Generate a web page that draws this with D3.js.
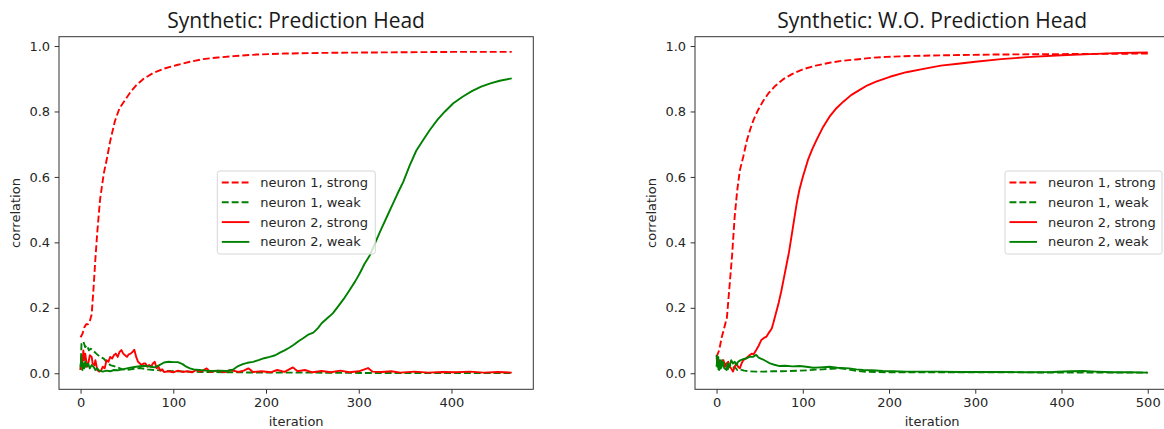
<!DOCTYPE html>
<html>
<head>
<meta charset="utf-8">
<script src="https://cdn.jsdelivr.net/npm/d3@7"></script>
<style>
    body { margin: 0; background: #fff; }
    .tick text { font-family: "DejaVu Sans", sans-serif; font-size: 13px; fill: #262626; }
    .axis-label { font-family: "DejaVu Sans", sans-serif; font-size: 13px; fill: #262626; }
    .title { font-family: "Open Sans", sans-serif; font-size: 21px; fill: #1a1a1a; }
    .legend text { font-family: "DejaVu Sans", sans-serif; font-size: 13px; fill: #262626; }
</style>
</head>
<body>
<div id="chart"></div>
<script>

// legend labels (same for both panels)
let seriesNames = ["neuron 1, strong", "neuron 1, weak", "neuron 2, strong", "neuron 2, weak"];
let yTicks = [0.0, 0.2, 0.4, 0.6, 0.8, 1.0];
let xTicksLeft = [0, 100, 200, 300, 400];
let xTicksRight = [0, 100, 200, 300, 400, 500];

// ---- left panel: with prediction head, [iteration, correlation]
let headN1Strong = [[0,0.11],[2,0.12],[4,0.14],[6,0.15],[8,0.15],[10,0.16],[12,0.18],[14,0.26],[16,0.35],[18,0.43],[21,0.53],[25,0.61],[28,0.65],[32,0.71],[37,0.77],[42,0.81],[48,0.835],[54,0.86],[60,0.88],[68,0.9],[78,0.917],[90,0.931],[104,0.942],[118,0.952],[132,0.96],[148,0.965],[165,0.969],[190,0.974],[220,0.977],[260,0.979],[300,0.98],[350,0.981],[400,0.982],[465,0.982]];

let headN1Weak = [[0,0.01],[1,0.09],[3,0.097],[5,0.08],[7,0.085],[9,0.07],[11,0.075],[14,0.068],[17,0.06],[21,0.05],[25,0.045],[28,0.035],[32,0.025],[36,0.022],[40,0.018],[45,0.012],[50,0.01],[56,0.013],[64,0.016],[72,0.012],[80,0.01],[90,0.008],[100,0.006],[115,0.005],[130,0.004],[160,0.003],[200,0.002],[250,0.002],[300,0.001],[350,0.001],[400,0.001],[465,0.001]];

let headN2Strong = [[0,0.01],[1,0.05],[2,0.03],[3,0.07],[4,0.04],[5,0.06],[7,0.02],[8,0.025],[10,0.055],[12,0.05],[13,0.03],[15,0.025],[16,0.04],[18,0.01],[20,0.005],[22,0.008],[24,0.02],[26,0.015],[28,0.04],[30,0.035],[32,0.05],[34,0.045],[36,0.055],[38,0.06],[40,0.05],[42,0.065],[44,0.071],[46,0.06],[48,0.055],[50,0.05],[52,0.058],[54,0.06],[56,0.065],[58,0.072],[60,0.05],[62,0.035],[64,0.03],[66,0.025],[68,0.03],[70,0.03],[72,0.02],[74,0.025],[76,0.02],[78,0.03],[80,0.035],[82,0.015],[84,0.02],[86,0.008],[88,0.012],[90,0.004],[95,0.006],[100,0.003],[105,0.008],[110,0.004],[115,0.006],[120,0.003],[125,0.01],[130,0.005],[136,0.015],[140,0.004],[148,0.008],[155,0.003],[162,0.01],[170,0.004],[176,0.008],[181,0.015],[186,0.004],[195,0.006],[205,0.003],[212,0.01],[220,0.004],[229,0.018],[234,0.006],[242,0.01],[250,0.003],[260,0.007],[270,0.003],[280,0.008],[290,0.003],[300,0.006],[310,0.016],[315,0.005],[325,0.004],[335,0.006],[345,0.002],[360,0.005],[375,0.002],[390,0.004],[405,0.003],[420,0.005],[435,0.002],[450,0.004],[465,0.002]];

let headN2Weak = [[0,0.02],[1,0.05],[2,0.01],[3,0.03],[4,0.015],[5,0.035],[6,0.02],[8,0.03],[10,0.015],[12,0.025],[14,0.02],[16,0.01],[18,0.015],[20,0.008],[24,0.005],[28,0.008],[32,0.006],[36,0.01],[40,0.009],[45,0.012],[50,0.015],[55,0.018],[60,0.02],[66,0.022],[71,0.022],[76,0.02],[80,0.018],[85,0.025],[90,0.033],[95,0.035],[100,0.034],[105,0.034],[110,0.028],[114,0.02],[118,0.015],[122,0.012],[128,0.01],[135,0.008],[142,0.007],[150,0.008],[158,0.007],[165,0.012],[170,0.022],[175,0.028],[180,0.032],[186,0.035],[192,0.04],[198,0.046],[204,0.05],[210,0.055],[215,0.063],[220,0.07],[225,0.078],[230,0.087],[235,0.098],[240,0.107],[245,0.117],[251,0.124],[256,0.138],[260,0.153],[266,0.168],[272,0.183],[278,0.205],[284,0.228],[290,0.254],[296,0.28],[301,0.305],[306,0.333],[312,0.361],[318,0.4],[323,0.433],[330,0.476],[337,0.519],[342,0.55],[348,0.585],[355,0.635],[362,0.68],[370,0.715],[377,0.745],[385,0.775],[393,0.8],[402,0.825],[412,0.845],[422,0.862],[432,0.876],[442,0.886],[452,0.894],[465,0.901]];

// ---- right panel: without prediction head
let noHeadN1Strong = [[0,0.05],[3,0.07],[6,0.11],[9,0.14],[12,0.17],[15,0.265],[18,0.36],[21,0.478],[24,0.56],[27,0.62],[31,0.662],[35,0.71],[39,0.745],[43,0.775],[48,0.804],[54,0.832],[60,0.855],[68,0.878],[77,0.898],[88,0.915],[100,0.929],[115,0.94],[131,0.949],[146,0.955],[162,0.959],[180,0.964],[197,0.967],[230,0.97],[270,0.972],[320,0.974],[380,0.975],[440,0.976],[500,0.977]];

let noHeadN1Weak = [[0,0.02],[1,0.045],[2,0.01],[3,0.035],[5,0.015],[7,0.04],[9,0.02],[11,0.03],[13,0.012],[15,0.025],[18,0.015],[21,0.02],[24,0.01],[27,0.012],[32,0.008],[38,0.006],[46,0.005],[55,0.005],[65,0.006],[75,0.006],[85,0.007],[95,0.008],[105,0.009],[115,0.011],[123,0.012],[133,0.014],[143,0.015],[152,0.012],[160,0.008],[170,0.005],[185,0.004],[200,0.003],[250,0.003],[300,0.003],[350,0.003],[400,0.002],[450,0.002],[500,0.002]];

let noHeadN2Strong = [[0,0.046],[2,0.03],[3,0.04],[4,0.02],[6,0.025],[8,0.04],[10,0.02],[12,0.03],[13.5,0.035],[15,0.02],[17,0.015],[19,0.005],[21,0.02],[23,0.03],[25,0.02],[27,0.015],[29,0.03],[31,0.04],[34,0.045],[36,0.05],[38.6,0.056],[41,0.06],[43,0.058],[46,0.071],[49,0.085],[52,0.102],[55,0.108],[58,0.112],[61,0.125],[64,0.137],[66,0.155],[68,0.175],[70,0.195],[72,0.215],[75,0.25],[78,0.29],[81,0.33],[84,0.37],[87,0.42],[90,0.47],[93,0.52],[96,0.56],[100,0.6],[106,0.652],[111,0.685],[116,0.713],[123,0.75],[131,0.784],[139,0.81],[147,0.83],[156,0.85],[166,0.866],[175,0.88],[185,0.891],[201,0.906],[220,0.92],[240,0.93],[260,0.94],[280,0.946],[300,0.952],[330,0.96],[360,0.966],[400,0.972],[440,0.976],[470,0.979],[500,0.98]];

let noHeadN2Weak = [[0,0.056],[1,0.02],[2,0.05],[3,0.01],[4,0.015],[5,0.04],[6,0.02],[7.5,0.035],[9,0.015],[11.6,0.01],[13,0.03],[15,0.02],[17,0.04],[19,0.03],[21,0.035],[23,0.025],[25,0.035],[28,0.04],[31,0.043],[34,0.045],[38.6,0.051],[42,0.05],[46,0.056],[48,0.05],[50,0.046],[54,0.042],[58,0.036],[62,0.03],[67,0.026],[73,0.022],[80,0.023],[88,0.021],[96.5,0.022],[104,0.02],[112,0.017],[120,0.018],[131,0.02],[140,0.017],[154,0.015],[162,0.012],[170,0.01],[180,0.009],[193,0.007],[205,0.006],[220,0.005],[240,0.005],[259,0.005],[280,0.004],[300,0.004],[330,0.004],[360,0.003],[390,0.004],[410,0.006],[425,0.007],[440,0.005],[460,0.003],[480,0.003],[500,0.002]];

// line style per series, same order as seriesNames
let seriesStyle = [
    {color: "#ff0000", dash: "6.9,3"},
    {color: "#008000", dash: "6.9,3"},
    {color: "#ff0000", dash: null},
    {color: "#008000", dash: null}
];


class LineVis {

    constructor(svg, config) {
        this.svg = svg;
        this.config = config;

        this.initVis();
    }

    initVis() {
        let vis = this;
        let c = vis.config;

        vis.width = c.right - c.left;
        vis.height = c.bottom - c.top;

        vis.g = vis.svg.append("g")
            .attr("transform", `translate(${c.left}, ${c.top})`);

        // scales (matplotlib style 5% margins)
        let xMax = d3.max(c.series, s => d3.max(s, d => d[0]));
        let xPad = xMax * 0.05;
        vis.x = d3.scaleLinear()
            .domain([-xPad, xMax + xPad])
            .range([0, vis.width]);

        vis.y = d3.scaleLinear()
            .domain([-0.049, 1.0285])
            .range([vis.height, 0]);

        vis.clip = vis.g.append("clipPath")
            .attr("id", "clip-" + c.id)
            .append("rect")
            .attr("width", vis.width)
            .attr("height", vis.height);

        // lines
        let line = d3.line()
            .x(d => vis.x(d[0]))
            .y(d => vis.y(d[1]));

        vis.g.append("g")
            .attr("clip-path", `url(#clip-${c.id})`)
            .selectAll(".series")
            .data(c.series)
            .enter()
            .append("path")
            .attr("class", "series")
            .attr("d", d => line(d))
            .attr("fill", "none")
            .attr("stroke", (d, i) => seriesStyle[i].color)
            .attr("stroke-width", 1.9)
            .attr("stroke-dasharray", (d, i) => seriesStyle[i].dash)
            .attr("stroke-linejoin", "round");

        // axes
        vis.g.append("g")
            .attr("class", "axis x-axis")
            .attr("transform", `translate(0, ${vis.height})`)
            .call(d3.axisBottom(vis.x).tickValues(c.xTicks).tickFormat(d3.format("d")).tickSize(4.4).tickPadding(4))
            .call(g => g.select(".domain").remove());

        vis.g.append("g")
            .attr("class", "axis y-axis")
            .call(d3.axisLeft(vis.y).tickValues(yTicks).tickFormat(d3.format(".1f")).tickSize(4.4).tickPadding(4.5))
            .call(g => g.select(".domain").remove());

        vis.g.selectAll(".tick line").attr("stroke", "#333");

        // frame
        vis.g.append("rect")
            .attr("width", vis.width)
            .attr("height", vis.height)
            .attr("fill", "none")
            .attr("stroke", "#333")
            .attr("stroke-width", 1);

        // title + labels
        vis.g.append("text")
            .attr("class", "title")
            .attr("x", vis.width / 2)
            .attr("y", -9)
            .attr("text-anchor", "middle")
            .text(c.title);

        vis.g.append("text")
            .attr("class", "axis-label")
            .attr("x", vis.width / 2)
            .attr("y", vis.height + 37)
            .attr("text-anchor", "middle")
            .text("iteration");

        vis.g.append("text")
            .attr("class", "axis-label")
            .attr("text-anchor", "middle")
            .attr("transform", `translate(${c.ylabelX - c.left}, ${vis.height / 2}) rotate(-90)`)
            .text("correlation");

        // legend
        let lg = vis.g.append("g")
            .attr("class", "legend")
            .attr("transform", `translate(${c.legendX - c.left}, ${171 - c.top})`);

        lg.append("rect")
            .attr("width", c.legendW)
            .attr("height", 83)
            .attr("rx", 2.5)
            .attr("fill", "#fff")
            .attr("fill-opacity", 0.8)
            .attr("stroke", "#d6d6d6");

        let items = lg.selectAll(".item")
            .data(seriesNames)
            .enter()
            .append("g")
            .attr("class", "item")
            .attr("transform", (d, i) => `translate(0, ${11.5 + i * 19.8})`);

        items.append("line")
            .attr("x1", 4.5)
            .attr("x2", 32)
            .attr("stroke", (d, i) => seriesStyle[i].color)
            .attr("stroke-width", 1.9)
            .attr("stroke-dasharray", (d, i) => seriesStyle[i].dash);

        items.append("text")
            .attr("x", 43)
            .attr("dy", "0.35em")
            .text(d => d);
    }
}

let svg = d3.select("#chart").append("svg")
    .attr("width", 1164)
    .attr("height", 429);

new LineVis(svg, {
    id: "head", title: "Synthetic: Prediction Head",
    left: 59, right: 533.3, top: 36.7, bottom: 389.3,
    xTicks: xTicksLeft, ylabelX: 20, legendX: 217.3, legendW: 158,
    series: [headN1Strong, headN1Weak, headN2Strong, headN2Weak]
});

new LineVis(svg, {
    id: "nohead", title: "Synthetic: W.O. Prediction Head",
    left: 695, right: 1169.3, top: 36.7, bottom: 389.3,
    xTicks: xTicksRight, ylabelX: 656, legendX: 1005, legendW: 157,
    series: [noHeadN1Strong, noHeadN1Weak, noHeadN2Strong, noHeadN2Weak]
});

</script>
</body>
</html>
